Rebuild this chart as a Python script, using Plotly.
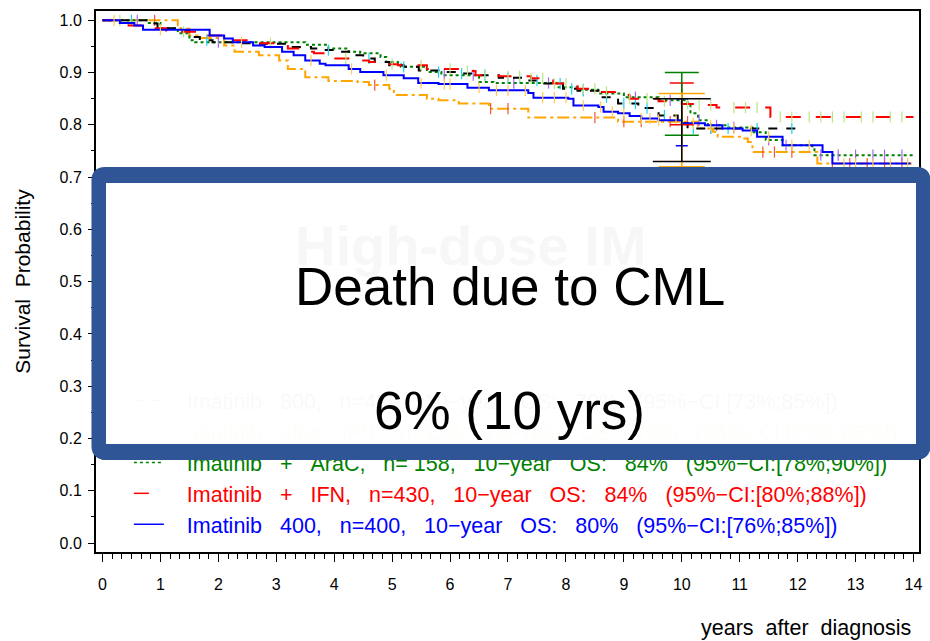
import numpy as np
import plotly.graph_objects as go

# ---------------- data ----------------
blue_t = [0, 0.3, 0.55, 0.7, 1.85, 2.1, 2.25, 2.6, 2.8, 3.1, 3.3, 3.5, 3.75, 3.85, 4.25, 4.45, 4.85, 5.2,
          5.45, 5.8, 6.3, 6.67, 7.35, 7.44, 8.04, 8.13, 8.56, 8.65, 8.9, 9.1, 9.3, 9.6, 10.0, 10.4, 10.7,
          11.05, 11.3, 11.74, 12.43, 12.6, 13.95]
blue_s = [1.0, 0.995, 0.99, 0.982, 0.971, 0.965, 0.958, 0.952, 0.949, 0.94, 0.933, 0.923, 0.917, 0.914,
          0.907, 0.901, 0.895, 0.889, 0.88, 0.878, 0.871, 0.866, 0.861, 0.852, 0.850, 0.837, 0.834, 0.825,
          0.822, 0.817, 0.812, 0.809, 0.803, 0.799, 0.793, 0.789, 0.777, 0.761, 0.748, 0.726, 0.726]

red_t = [0, 0.45, 0.8, 1.1, 1.8, 2.2, 2.7, 3.2, 3.5, 3.65, 4.0, 4.35, 4.6, 4.85, 5.1, 5.6, 6.25, 6.44,
         6.84, 7.4, 7.78, 8.2, 8.56, 8.9, 9.1, 9.6, 10.0, 10.25, 10.6, 11.53, 14.0]
red_s = [1.0, 0.99, 0.985, 0.978, 0.971, 0.962, 0.956, 0.946, 0.94, 0.937, 0.927, 0.923, 0.92, 0.916,
         0.914, 0.907, 0.903, 0.895, 0.893, 0.889, 0.879, 0.869, 0.863, 0.857, 0.85, 0.845, 0.84, 0.838,
         0.833, 0.815, 0.815]

green_t = [0, 0.8, 1.0, 1.3, 1.5, 1.6, 3.5, 3.9, 4.25, 4.45, 4.8, 4.9, 5.1, 5.15, 5.6, 5.85, 6.5, 6.75,
           7.85, 8.2, 8.56, 9.0, 9.6, 10.1, 10.15, 10.28, 10.45, 10.8, 11.22, 11.45, 11.74, 12.25, 12.29, 14.0]
green_s = [1.0, 0.995, 0.985, 0.975, 0.962, 0.958, 0.953, 0.946, 0.94, 0.937, 0.93, 0.92, 0.916, 0.911,
           0.901, 0.895, 0.882, 0.88, 0.872, 0.867, 0.86, 0.853, 0.847, 0.841, 0.822, 0.809, 0.799, 0.795,
           0.786, 0.771, 0.761, 0.759, 0.742, 0.742]

black_t = [0, 0.8, 0.95, 1.25, 1.5, 1.68, 1.9, 2.3, 2.7, 3.2, 3.6, 3.75, 4.1, 4.35, 4.5, 4.7, 4.95, 5.2,
           5.46, 5.8, 6.15, 6.5, 6.84, 7.35, 7.6, 7.95, 8.2, 8.56, 8.9, 9.25, 9.6, 9.93, 10.1, 12.0]
black_s = [1.0, 0.994, 0.985, 0.981, 0.968, 0.962, 0.958, 0.956, 0.955, 0.949, 0.946, 0.943, 0.94, 0.933,
           0.927, 0.92, 0.914, 0.911, 0.904, 0.901, 0.898, 0.895, 0.89, 0.885, 0.879, 0.869, 0.865, 0.853,
           0.841, 0.832, 0.818, 0.803, 0.793, 0.793]

orange_t = [0, 1.3, 1.35, 1.5, 1.68, 2.1, 2.28, 2.7, 3.05, 3.2, 3.5, 3.9, 4.4, 4.6, 4.95, 5.03, 5.6, 5.8,
            6.15, 6.67, 7.35, 8.9, 10.28, 10.54, 10.62, 11.05, 11.14, 11.22, 12.34, 13.97]
orange_s = [1.0, 0.99, 0.984, 0.971, 0.966, 0.952, 0.94, 0.933, 0.923, 0.907, 0.891, 0.884, 0.882, 0.876,
            0.869, 0.857, 0.85, 0.847, 0.841, 0.831, 0.814, 0.806, 0.793, 0.787, 0.777, 0.774, 0.767,
            0.748, 0.726, 0.726]

# censoring times
blue_c = [0.2, 1.0, 2.4, 3.6, 4.3, 4.9, 5.5, 5.9, 6.0, 6.5, 6.8, 7.0, 7.3, 7.6, 7.8, 8.0, 8.3, 8.6, 8.8,
          9.0, 9.3, 9.45, 9.6, 9.9, 10.2, 10.5, 10.9, 11.2, 11.5, 11.9, 12.2, 12.8, 13.0, 13.3, 13.6, 13.9]
red_c = [0.3, 1.4, 2.9, 4.2, 5.0, 5.5, 6.0, 6.3, 6.6, 7.0, 7.2, 7.4, 7.6, 7.8, 8.0, 8.3, 8.5, 8.7, 9.1,
         9.4, 9.7, 10.1, 10.3, 10.5, 10.9, 11.1, 11.3, 11.7, 11.9, 12.2, 12.4, 12.6, 12.8, 13.1, 13.3,
         13.6, 13.8]
green_c = [0.6, 2.0, 5.9, 6.4, 7.1, 7.7, 8.3, 9.2, 9.8, 10.3, 10.6, 10.9, 11.5, 11.8, 12.4, 12.7, 13.0,
           13.3, 13.5, 13.8]
black_c = [0.5, 1.8, 3.9, 4.6, 5.2, 5.8, 6.2, 6.6, 7.0, 7.2, 7.5, 7.9, 8.1, 8.3, 8.7, 9.0, 9.2, 9.4, 9.7,
           10.2, 10.5, 10.8, 11.3, 11.9]
orange_c = [0.9, 4.7, 6.7, 7.0, 8.5, 9.0, 9.3, 9.8, 10.1, 10.5, 11.4, 11.6, 11.9, 12.6, 12.9, 13.2, 13.5,
            13.8]

# 10-year OS confidence intervals
ci_year = 10
ci_low = {"black": 0.73, "orange": 0.72, "green": 0.78, "red": 0.80, "blue": 0.76}
ci_high = {"black": 0.85, "orange": 0.86, "green": 0.90, "red": 0.88, "blue": 0.85}

legend_labels = [
    "Imatinib  800,  n=420,  10\u2212year  OS:  79%  (95%\u2212CI:[73%;85%])",
    "Imatinib  after  IFN,  n=128,  10\u2212year  OS:  79%  (95%\u2212CI:[72%;86%])",
    "Imatinib  +  AraC,  n= 158,  10\u2212year  OS:  84%  (95%\u2212CI:[78%;90%])",
    "Imatinib  +  IFN,  n=430,  10\u2212year  OS:  84%  (95%\u2212CI:[80%;88%])",
    "Imatinib  400,  n=400,  10\u2212year  OS:  80%  (95%\u2212CI:[76%;85%])",
]
y_ticks = [round(0.1 * i, 1) for i in range(11)]
x_ticks = list(range(15))

# ---------------- styling ----------------
FONT = "Liberation Sans, Arial, sans-serif"
NB = "\u00a0"
BOX_BLUE = "#2F5597"
W, H = 930, 641
ML, MR, MT, MB = 96, 8, 11, 89
PW, PH = W - ML - MR, H - MT - MB


def pxp(x):
    return (x - ML) / PW


def pyp(y):
    return (H - MB - y) / PH


def spaced(s, gap=3):
    return s.replace("  ", NB * gap).replace(" ", NB)


series = {
    "black": dict(t=black_t, s=black_s, c=black_c, color="#000000", dash="dash", cen="rgba(0,0,0,0.35)",
                  capw=29),
    "orange": dict(t=orange_t, s=orange_s, c=orange_c, color="#FFA500", dash="12px,4px,3px,4px",
                   cen="rgba(255,165,0,0.45)", capw=23),
    "green": dict(t=green_t, s=green_s, c=green_c, color="#008000", dash="dot", cen="rgba(0,128,0,0.45)",
                  capw=17),
    "red": dict(t=red_t, s=red_s, c=red_c, color="#FF0000", dash="longdash", cen="rgba(255,0,0,0.4)",
                capw=12),
    "blue": dict(t=blue_t, s=blue_s, c=blue_c, color="#0000FF", dash="solid", cen="rgba(0,0,255,0.4)",
                 capw=6),
}
order = ["black", "orange", "green", "red", "blue"]

fig = go.Figure()

# curves and censor marks
for key in ["orange", "green", "black", "red", "blue"]:
    d = series[key]
    t = np.array(d["t"])
    s = np.array(d["s"])
    fig.add_trace(go.Scatter(x=t, y=s, mode="lines",
                             line=dict(color=d["color"], width=2, dash=d["dash"], shape="hv"),
                             showlegend=False, hoverinfo="skip"))
    c = np.array(d["c"])
    idx = np.searchsorted(t, c, side="right") - 1
    fig.add_trace(go.Scatter(x=c, y=s[idx], mode="markers",
                             marker=dict(symbol="line-ns-open", size=8, line=dict(color=d["cen"], width=1.2)),
                             showlegend=False, hoverinfo="skip"))

# 10-year CI error bars
for key in ["blue", "red", "green", "orange", "black"]:
    d = series[key]
    lo, hi = ci_low[key], ci_high[key]
    mid = (lo + hi) / 2
    fig.add_trace(go.Scatter(x=[ci_year], y=[mid], mode="markers", marker=dict(size=1, color="rgba(0,0,0,0)"),
                             error_y=dict(type="data", symmetric=False, array=[hi - mid], arrayminus=[mid - lo],
                                          color=d["color"], thickness=1.5, width=d["capw"]),
                             showlegend=False, hoverinfo="skip"))

# legend entries
for key, lab in zip(order, legend_labels):
    d = series[key]
    name = NB * 3 + spaced(lab)
    fig.add_trace(go.Scatter(x=[None], y=[None], mode="lines",
                             line=dict(color=d["color"], width=1.5, dash=d["dash"]),
                             name=f'<span style="color:{d["color"]}">{name}</span>'))

# rounded box border (shape) + near-opaque white cover (annotation, drawn over the legend)
L, R, T, B, r = 99.5, 925.5, 175, 451.5, 5


def P(x, y):
    return f"{pxp(x):.5f},{pyp(y):.5f}"


box_path = (f"M{P(L + r, T)} L{P(R - r, T)} Q{P(R, T)} {P(R, T + r)} L{P(R, B - r)} Q{P(R, B)} {P(R - r, B)} "
            f"L{P(L + r, B)} Q{P(L, B)} {P(L, B - r)} L{P(L, T + r)} Q{P(L, T)} {P(L + r, T)} Z")
fig.add_shape(type="path", path=box_path, xref="paper", yref="paper", layer="above",
              line=dict(color=BOX_BLUE, width=16), fillcolor="rgba(255,255,255,0.97)")

IL, IR, IT, IB = 107.5, 917.5, 183, 443.5
fig.add_annotation(text=NB, x=pxp((IL + IR) / 2), y=pyp((IT + IB) / 2), xref="paper", yref="paper",
                   xanchor="center", yanchor="middle", width=IR - IL, height=IB - IT, borderpad=0,
                   borderwidth=0, bgcolor="rgba(255,255,255,0.975)", showarrow=False)
# bottom border band redrawn above the legend (the legend sits behind the box in the reference)
SL, SR, ST, SB = 104, 921, 443.5, 459.5
fig.add_annotation(text=NB, x=pxp((SL + SR) / 2), y=pyp((ST + SB) / 2), xref="paper", yref="paper",
                   xanchor="center", yanchor="middle", width=SR - SL, height=SB - ST, borderpad=0,
                   borderwidth=0, bgcolor=BOX_BLUE, showarrow=False)

fig.add_annotation(text="<b>High-dose IM</b>", x=pxp(472), y=pyp(245), xref="paper", yref="paper",
                   xanchor="center", yanchor="middle",
                   showarrow=False, font=dict(family=FONT, size=56, color="#f7f7f7"))
fig.add_annotation(text="Death due to CML", x=pxp(512), y=pyp(286), xref="paper", yref="paper",
                   xanchor="center", yanchor="middle",
                   showarrow=False, font=dict(family=FONT, size=53, color="#000000"))
fig.add_annotation(text="6% (10 yrs)", x=pxp(511), y=pyp(410), xref="paper", yref="paper",
                   xanchor="center", yanchor="middle",
                   showarrow=False, font=dict(family=FONT, size=53, color="#000000"))
fig.add_annotation(text=spaced("years  after  diagnosis", 2), x=pxp(916), y=pyp(628), xref="paper",
                   yref="paper", xanchor="right", yanchor="middle", showarrow=False,
                   font=dict(family=FONT, size=21.5, color="#000000"))

fig.update_layout(
    width=W, height=H, margin=dict(l=ML, r=MR, t=MT, b=MB, pad=0),
    paper_bgcolor="white", plot_bgcolor="white",
    font=dict(family=FONT, color="#000000"),
    legend=dict(x=pxp(129), y=pyp(380), xanchor="left", yanchor="top", bgcolor="rgba(0,0,0,0)",
                font=dict(family=FONT, size=21.5), traceorder="normal", itemwidth=30),
    xaxis=dict(range=[-0.112, 14.095], tickvals=x_ticks, ticktext=[str(v) for v in x_ticks],
               ticks="outside", ticklen=8, tickwidth=1, tickcolor="#000", showgrid=False, zeroline=False,
               showline=True, linecolor="#000", linewidth=2, mirror=True,
               tickfont=dict(family=FONT, size=16), ticklabelstandoff=9,
               minor=dict(dtick=1 / 6, tick0=0, ticks="outside", ticklen=5, tickcolor="#000", tickwidth=1,
                          showgrid=False)),
    yaxis=dict(range=[-0.0172, 1.0178], tickvals=y_ticks, ticktext=[f"{v:.1f}" for v in y_ticks],
               ticks="outside", ticklen=6, tickwidth=1, tickcolor="#000", showgrid=False, zeroline=False,
               showline=True, linecolor="#000", linewidth=2, mirror=True,
               tickfont=dict(family=FONT, size=16), ticklabelstandoff=3,
               title=dict(text=spaced("Survival  Probability", 2), font=dict(family=FONT, size=21), standoff=23),
               minor=dict(dtick=0.05, tick0=0, ticks="outside", ticklen=3, tickcolor="#000", tickwidth=1,
                          showgrid=False)),
)

fig.write_html("out.html")
